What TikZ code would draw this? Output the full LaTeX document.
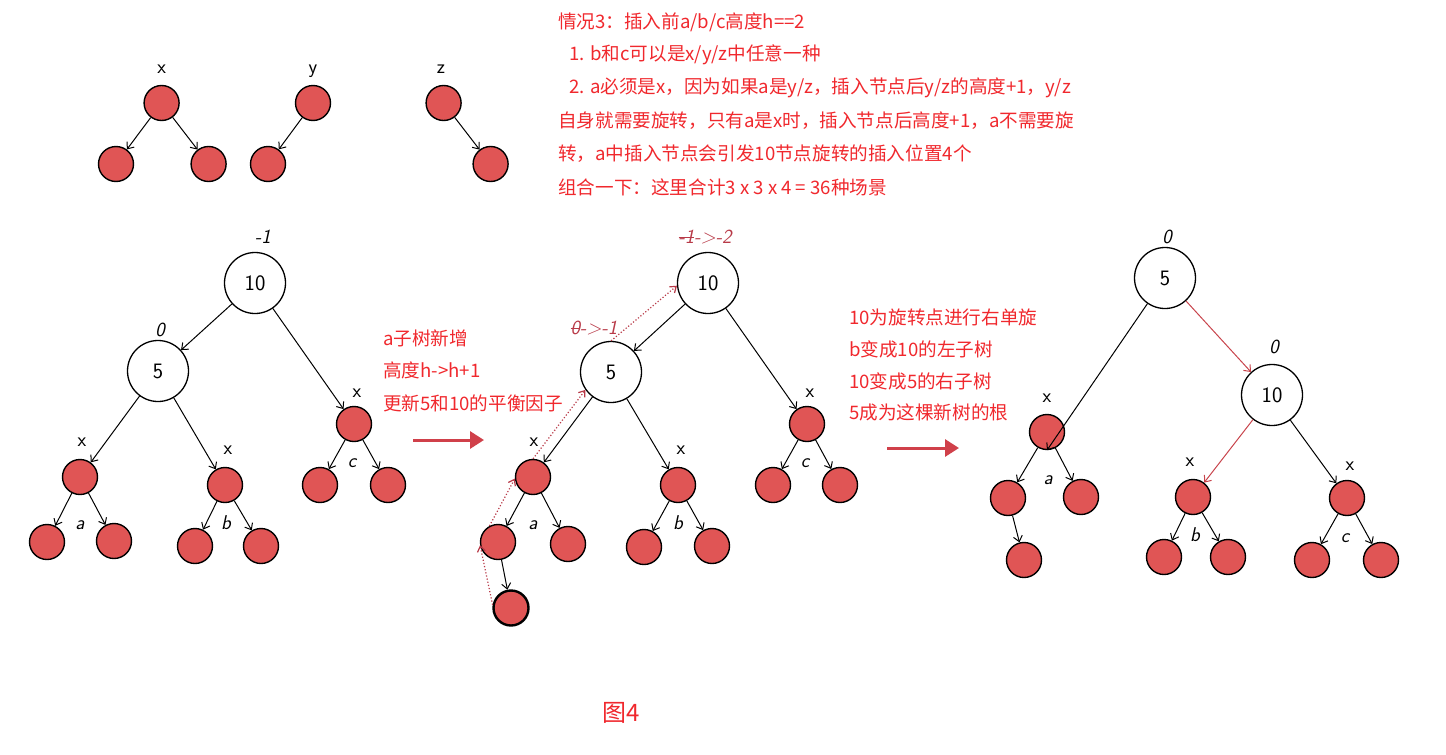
\documentclass[tikz,border=0pt]{standalone}
\usepackage{fontspec}
\usetikzlibrary{arrows.meta}
\newfontfamily\cjk{Noto Sans CJK SC}
\definecolor{txtred}{HTML}{F0282D}
\definecolor{nodered}{HTML}{E05555}
\definecolor{arred}{HTML}{D0404A}
\definecolor{dotred}{HTML}{B83A48}
\definecolor{linered}{HTML}{C8444C}
\newcommand\mystrike[1]{\setbox0\hbox{#1}\rlap{\raisebox{0.3em}{\rule{\wd0}{0.9pt}}}\box0}
\begin{document}
\begin{tikzpicture}[x=1pt,y=-1pt,
  rn/.style={circle,draw=black,line width=1.4pt,fill=nodered,minimum size=35pt,inner sep=0pt},
  rnthick/.style={rn,line width=2.4pt},
  wn/.style={circle,draw=black,line width=1.3pt,fill=white,minimum size=61pt,inner sep=0pt,font=\sffamily\fontsize{22}{22}\selectfont},
  lbl/.style={font=\sffamily\fontsize{20}{20}\selectfont,inner sep=0pt},
  bfac/.style={font=\sffamily\itshape\fontsize{20}{20}\selectfont,inner sep=0pt},
  bfred/.style={bfac,text=dotred},
  ed/.style={draw=black,line width=1pt,-{Straight Barb[length=5.5pt,width=9pt]}},
  redge/.style={draw=linered,line width=1pt,-{Straight Barb[length=5.5pt,width=9pt]}},
  dotar/.style={draw=dotred,line width=1.2pt,dotted,-{Straight Barb[length=5.5pt,width=8pt]}},
  bigar/.style={draw=arred,line width=3pt,-{Triangle[length=14pt,width=17pt]}},
  txt/.style={font=\cjk\fontsize{18.6}{18.6}\selectfont,text=txtred,anchor=west,inner sep=0pt}
]
\useasboundingbox (0,0) rectangle (1446,755);

% ---------- top small trees ----------
\node[rn] (tx) at (161.6,103) {};
\node[rn] (tx1) at (116,164) {};
\node[rn] (tx2) at (208.6,164) {};
\node[lbl] (txl) at (161.6,69) {x};
\draw[ed] (tx) -- (tx1);
\draw[ed] (tx) -- (tx2);
\node[rn] (ty) at (313,103) {};
\node[rn] (ty1) at (268,164) {};
\node[lbl] (tyl) at (313,71) {y};
\draw[ed] (ty) -- (ty1);
\node[rn] (tz) at (443.6,103) {};
\node[rn] (tz1) at (490.6,164) {};
\node[lbl] (tzl) at (441,69) {z};
\draw[ed] (tz) -- (tz1);

% ---------- top text ----------
\node[txt] (t1) at (558,22) {情况3：插入前a/b/c高度h==2};
\node[txt] (t2) at (569,55) {1. b和c可以是x/y/z中任意一种};
\node[txt] (t3) at (569,88) {2. a必须是x，因为如果a是y/z，插入节点后y/z的高度+1，y/z};
\node[txt] (t4) at (558,121) {自身就需要旋转，只有a是x时，插入节点后高度+1，a不需要旋};
\node[txt] (t5) at (558,154) {转，a中插入节点会引发10节点旋转的插入位置4个};
\node[txt] (t6) at (558,187) {组合一下：这里合计3 x 3 x 4 = 36种场景};

% ---------- left tree ----------
\node[wn] (L10) at (255,283) {10};
\node[bfac] (L10b) at (263,237) {-1};
\node[wn] (L5) at (158,371) {5};
\node[bfac] (L5b) at (160,330) {0};
\node[rn] (Lx) at (80,477) {};
\node[lbl] (Lxl) at (82,442) {x};
\node[rn] (La1) at (47,542) {};
\node[rn] (La2) at (114,541) {};
\node[bfac] (Lal) at (80,525) {a};
\node[rn] (Lb) at (225,485) {};
\node[lbl] (Lbl) at (228,450) {x};
\node[rn] (Lb1) at (195,546) {};
\node[rn] (Lb2) at (261,546) {};
\node[bfac] (Lbb) at (226,523) {b};
\node[rn] (Lc) at (354,424) {};
\node[lbl] (Lcl) at (357,393) {x};
\node[rn] (Lc1) at (320,485) {};
\node[rn] (Lc2) at (388,485) {};
\node[bfac] (Lcc) at (352,463) {c};
\draw[ed] (L10) -- (L5);
\draw[ed] (L10) -- (Lc);
\draw[ed] (L5) -- (Lx);
\draw[ed] (L5) -- (Lb);
\draw[ed] (Lx) -- (La1);
\draw[ed] (Lx) -- (La2);
\draw[ed] (Lb) -- (Lb1);
\draw[ed] (Lb) -- (Lb2);
\draw[ed] (Lc) -- (Lc1);
\draw[ed] (Lc) -- (Lc2);

% ---------- first arrow + text ----------
\node[txt] (m1) at (383,338) {a子树新增};
\node[txt] (m2) at (383,370) {高度h->h+1};
\node[txt] (m3) at (383,403) {更新5和10的平衡因子};
\coordinate (A1s) at (413,440);
\coordinate (A1e) at (484,440);
\draw[bigar] (A1s) -- (A1e);

% ---------- middle tree ----------
\node[wn] (M10) at (708,283) {10};
\node[bfred] (M10b) at (705,237) {\mystrike{-1}->-2};
\node[wn] (M5) at (611,372) {5};
\node[bfred] (M5b) at (594,328) {\mystrike{0}->-1};
\node[rn] (Mx) at (533,477) {};
\node[lbl] (Mxl) at (534,442) {x};
\node[rn] (Ma1) at (498,542) {};
\node[rn] (Ma2) at (568,544) {};
\node[bfac] (Mal) at (533,525) {a};
\node[rnthick] (Mn) at (511,608) {};
\node[rn] (Mb) at (678,485) {};
\node[lbl] (Mbl) at (681,450) {x};
\node[rn] (Mb1) at (644,547) {};
\node[rn] (Mb2) at (712,546) {};
\node[bfac] (Mbb) at (678,523) {b};
\node[rn] (Mc) at (807,424) {};
\node[lbl] (Mcl) at (810,393) {x};
\node[rn] (Mc1) at (773,485) {};
\node[rn] (Mc2) at (840,485) {};
\node[bfac] (Mcc) at (805,463) {c};
\draw[ed] (M10) -- (M5);
\draw[ed] (M10) -- (Mc);
\draw[ed] (M5) -- (Mx);
\draw[ed] (M5) -- (Mb);
\draw[ed] (Mx) -- (Ma1);
\draw[ed] (Mx) -- (Ma2);
\draw[ed] (Ma1) -- (Mn);
\draw[ed] (Mb) -- (Mb1);
\draw[ed] (Mb) -- (Mb2);
\draw[ed] (Mc) -- (Mc1);
\draw[ed] (Mc) -- (Mc2);
\draw[dotar] (Mn.170) -- (Ma1.190);
\draw[dotar] (Ma1.118) -- (Mx.185);
\draw[dotar] (Mx.north) -- (M5.215);
\draw[dotar] (M5.north) -- (M10.185);

% ---------- second arrow + text ----------
\node[txt] (r1) at (849,317) {10为旋转点进行右单旋};
\node[txt] (r2) at (849,349) {b变成10的左子树};
\node[txt] (r3) at (849,381) {10变成5的右子树};
\node[txt] (r4) at (849,412) {5成为这棵新树的根};
\coordinate (A2s) at (887,448);
\coordinate (A2e) at (959,448);
\draw[bigar] (A2s) -- (A2e);

% ---------- right tree ----------
\node[wn] (R5) at (1165,278) {5};
\node[bfac] (R5b) at (1167,237) {0};
\node[wn] (R10) at (1272,395) {10};
\node[bfac] (R10b) at (1274,347) {0};
\node[rn] (Rax) at (1047,432) {};
\node[lbl] (Raxl) at (1047,398) {x};
\node[rn] (Ra1) at (1008,498) {};
\node[rn] (Ra2) at (1081,497) {};
\node[bfac] (Ral) at (1048,480) {a};
\node[rn] (Ra3) at (1024,560) {};
\node[rn] (Rbx) at (1193,497) {};
\node[lbl] (Rbxl) at (1190,462) {x};
\node[rn] (Rb1) at (1164,557) {};
\node[rn] (Rb2) at (1228,557) {};
\node[bfac] (Rbb) at (1195,535) {b};
\node[rn] (Rcx) at (1347,498) {};
\node[lbl] (Rcxl) at (1350,466) {x};
\node[rn] (Rc1) at (1312,560) {};
\node[rn] (Rc2) at (1381,560) {};
\node[bfac] (Rcc) at (1345,538) {c};
\draw[ed] (R5) -- (Rax.south);
\draw[redge] (R5) -- (R10);
\draw[redge] (R10) -- (Rbx);
\draw[ed] (R10) -- (Rcx);
\draw[ed] (Rax) -- (Ra1);
\draw[ed] (Rax) -- (Ra2);
\draw[ed] (Ra1) -- (Ra3);
\draw[ed] (Rbx) -- (Rb1);
\draw[ed] (Rbx) -- (Rb2);
\draw[ed] (Rcx) -- (Rc1);
\draw[ed] (Rcx) -- (Rc2);

% ---------- caption ----------
\node[font=\cjk\fontsize{24}{24}\selectfont,text=txtred,inner sep=0pt] (cap) at (621,713) {图4};
\end{tikzpicture}
\end{document}
